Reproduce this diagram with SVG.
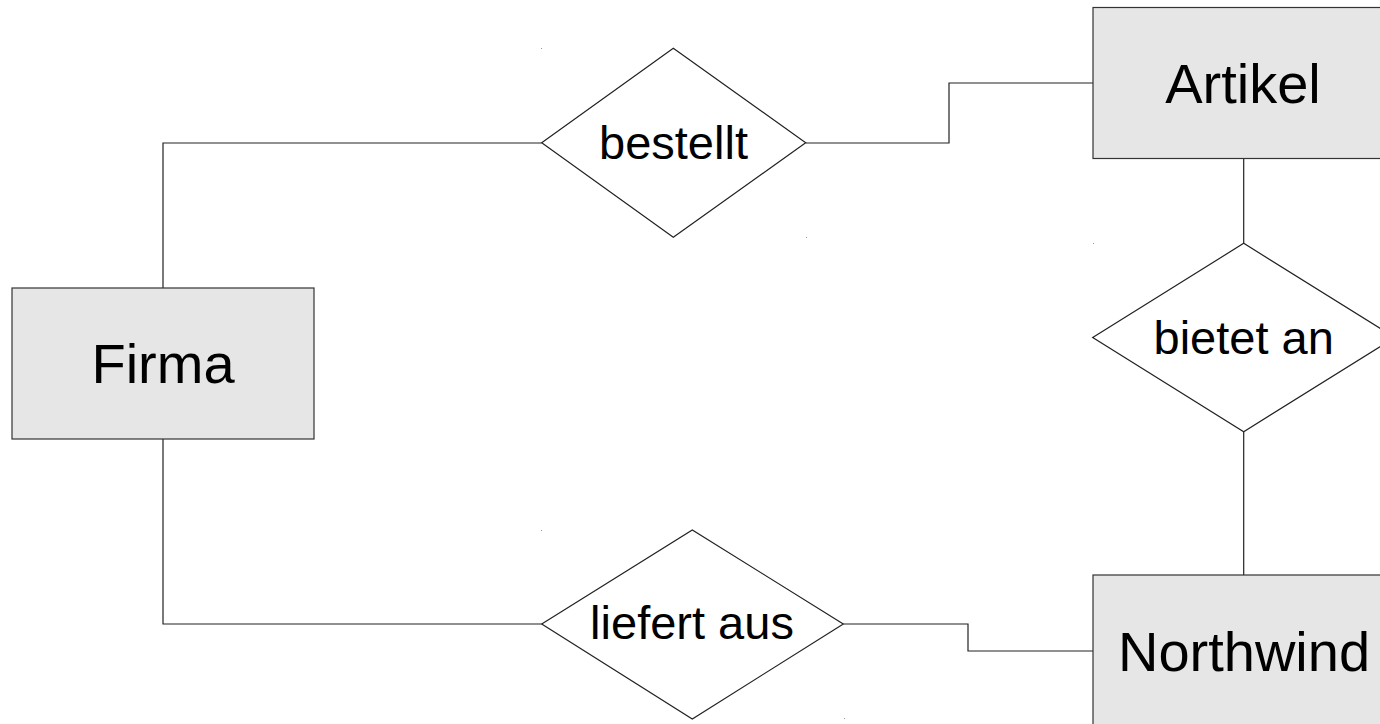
<svg xmlns="http://www.w3.org/2000/svg" width="1380" height="724" viewBox="0 0 1380 724">
<style>
.ent{fill:#e6e6e6;stroke:#333;stroke-width:1.2}
.rel{fill:#fff;stroke:#222;stroke-width:1.2}
.con{fill:none;stroke:#222;stroke-width:1.2}
.t{font-family:"Liberation Sans",Arial,sans-serif;fill:#000;text-anchor:middle}
.big{font-size:56px}
.med{font-size:47px}
.dot{fill:#999}
</style>
<rect width="1380" height="724" fill="#fff"/>
<g id="connectors">
<polyline class="con" points="163,288 163,143 541.7,143"/>
<polyline class="con" points="805.7,143 949,143 949,83 1093,83"/>
<polyline class="con" points="163,439 163,624 541.7,624"/>
<polyline class="con" points="843.3,624 968,624 968,651 1093,651"/>
<line class="con" x1="1243.7" y1="158.5" x2="1243.7" y2="243.3"/>
<line class="con" x1="1243.7" y1="431.7" x2="1243.7" y2="575"/>
</g>
<g id="firma">
<rect class="ent" x="12" y="288" width="302" height="151"/>
<text class="t big" x="163" y="383">Firma</text>
</g>
<g id="artikel">
<rect class="ent" x="1093" y="7.5" width="310" height="151"/>
<text class="t big" x="1243" y="103">Artikel</text>
</g>
<g id="northwind">
<rect class="ent" x="1093" y="575" width="310" height="160"/>
<text class="t big" x="1244" y="670.5">Northwind</text>
</g>
<g id="bestellt">
<polygon class="rel" points="541.7,142.7 673.3,48.3 805.7,142.7 673.3,237.3"/>
<text class="t med" x="673.5" y="158.5">bestellt</text>
</g>
<g id="liefert-aus">
<polygon class="rel" points="541.7,624 692.3,530 843.3,624 692.3,719"/>
<text class="t med" x="692" y="638.5">liefert aus</text>
</g>
<g id="bietet-an">
<polygon class="rel" points="1092.7,337.5 1243.7,243.3 1394.7,337.5 1243.7,431.7"/>
<text class="t med" x="1243.7" y="354">bietet an</text>
</g>
<g id="marks">
<rect class="dot" x="541" y="48" width="1" height="1"/>
<rect class="dot" x="806" y="237" width="1" height="1"/>
<rect class="dot" x="541" y="530" width="1" height="1"/>
<rect class="dot" x="844" y="718" width="1" height="1"/>
<rect class="dot" x="1093" y="243" width="1" height="1"/>
</g>
</svg>
